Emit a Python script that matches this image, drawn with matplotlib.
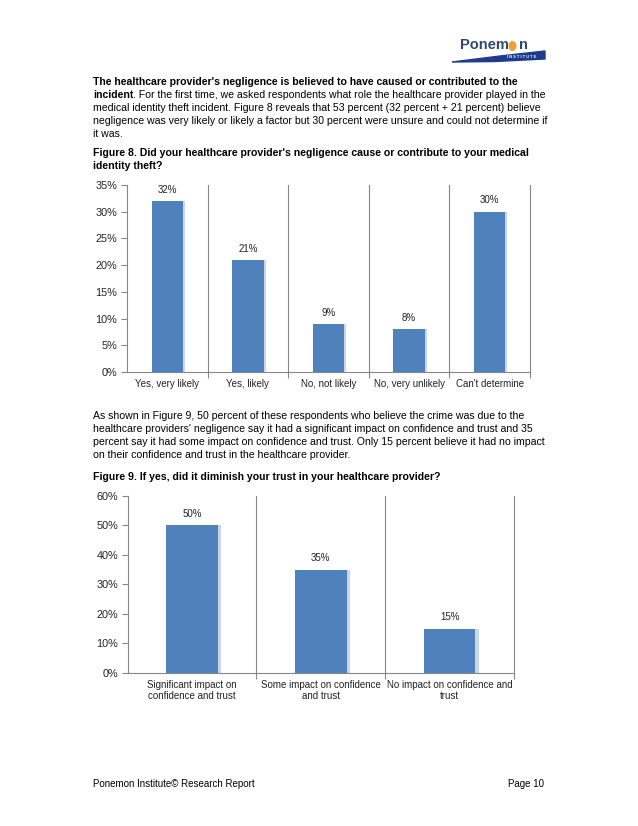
import matplotlib
matplotlib.use("Agg")
import matplotlib.pyplot as plt
from matplotlib.patches import Polygon, Circle

plt.rcParams["font.family"] = ["Liberation Sans", "DejaVu Sans"]

W, H = 638, 826

# 数据
fig8_cats = ["Yes, very likely", "Yes, likely", "No, not likely", "No, very unlikely", "Can't determine"]
fig8_vals = [32, 21, 9, 8, 30]
fig8_ticks = [0, 5, 10, 15, 20, 25, 30, 35]

fig9_cats = ["Significant impact on\nconfidence and trust", "Some impact on confidence\nand trust",
             "No impact on confidence and\ntrust"]
fig9_vals = [50, 35, 15]
fig9_ticks = [0, 10, 20, 30, 40, 50, 60]

para1 = ["medical identity theft incident. Figure 8 reveals that 53 percent (32 percent + 21 percent) believe",
         "negligence was very likely or likely a factor but 30 percent were unsure and could not determine if",
         "it was."]
para2 = ["As shown in Figure 9, 50 percent of these respondents who believe the crime was due to the",
         "healthcare providers' negligence say it had a significant impact on confidence and trust and 35",
         "percent say it had some impact on confidence and trust. Only 15 percent believe it had no impact",
         "on their confidence and trust in the healthcare provider."]

BLUE = "#4F81BD"
GRAY = "#868686"
FS = 7.6

fig = plt.figure(figsize=(W / 100, H / 100), dpi=100)
fig.patch.set_facecolor("white")


def px(x, y):
    return x / W, 1 - y / H


def txt(x, y, s, **kw):
    kw.setdefault("fontsize", FS)
    kw.setdefault("va", "center")
    return fig.text(*px(x, y), s, **kw)


def bar_chart(rect, cats, vals, ticks, bar_w, lab_fs):
    ax = fig.add_axes(rect)
    n = len(cats)
    xs = list(range(n))
    ax.bar(xs, vals, width=bar_w, color=BLUE, zorder=3)
    # 浅色阴影
    ax.bar([x + bar_w / 2 + 0.012 for x in xs], vals, width=0.025, color="#C9D6E8", zorder=2)
    for x, v in zip(xs, vals):
        ax.annotate(f"{v}%", (x, v), xytext=(0, 4.5), textcoords="offset points",
                    ha="center", va="bottom", fontsize=lab_fs, color="#222222")
    ax.set_xlim(-0.5, n - 0.5)
    ax.set_ylim(0, ticks[-1])
    ax.set_yticks(ticks)
    ax.set_yticklabels([f"{t}%" for t in ticks], fontsize=7.8, color="#222222")
    ax.set_xticks([x + 0.5 for x in xs])
    ax.set_xticklabels([])
    ax.set_xticks(xs, minor=True)
    ax.set_xticklabels(cats, minor=True, fontsize=lab_fs, color="#222222", linespacing=1.15)
    ax.tick_params(axis="x", which="minor", length=0, pad=5)
    ax.tick_params(axis="x", which="major", length=4, color=GRAY, width=0.8)
    ax.tick_params(axis="y", length=4, color=GRAY, width=0.8, pad=3)
    for x in xs:
        ax.axvline(x + 0.5, color=GRAY, lw=0.8, zorder=1, clip_on=False)
    for sp in ["top", "right"]:
        ax.spines[sp].set_visible(False)
    for sp in ["left", "bottom"]:
        ax.spines[sp].set_color(GRAY)
        ax.spines[sp].set_linewidth(0.8)
    return ax


# 图8
bar_chart([127 / W, 1 - 372 / H, 403 / W, 187 / H], fig8_cats, fig8_vals, fig8_ticks, 0.39, 7)
# 图9
bar_chart([127.7 / W, 1 - 672.7 / H, 386.3 / W, 176.7 / H], fig9_cats, fig9_vals, fig9_ticks, 0.4, 7)

# 正文
r = fig.canvas.get_renderer()
txt(93, 82, "The healthcare provider's negligence is believed to have caused or contributed to the",
    fontweight="bold")
t = txt(93, 95, "incident", fontweight="bold")
bb = t.get_window_extent(r)
fig.text(bb.x1 / fig.bbox.width, 1 - 95 / H,
         ". For the first time, we asked respondents what role the healthcare provider played in the",
         fontsize=FS, va="center")
for i, line in enumerate(para1):
    txt(93, 108 + 13 * i, line)
txt(93, 153, "Figure 8. Did your healthcare provider's negligence cause or contribute to your medical",
    fontweight="bold")
txt(93, 166, "identity theft?", fontweight="bold")

for i, line in enumerate(para2):
    txt(93, 416 + 13 * i, line)
txt(93, 477, "Figure 9. If yes, did it diminish your trust in your healthcare provider?", fontweight="bold")

# 页脚
txt(93, 784, "Ponemon Institute\u00a9 Research Report", fontsize=7)
txt(544, 784, "Page 10", fontsize=7, ha="right")

# logo
txt(460, 45, "Ponem", fontsize=10.5, fontweight="bold", color="#2E4A6E")
fig.text(*px(518.5, 45), "n", fontsize=10.5, fontweight="bold", color="#2E4A6E", va="center")
fig.add_artist(Circle(px(512.5, 46), 3.3 / W, color="#F0A030", transform=fig.transFigure))
sw = Polygon([px(452, 62), px(500, 56), px(545, 51), px(545, 59), px(495, 61.5)],
             closed=True, color="#1E3C8C", transform=fig.transFigure)
fig.add_artist(sw)
txt(522, 57, "I N S T I T U T E", fontsize=2.8, color="white", ha="center", fontweight="bold")

fig.savefig("out.png", dpi=100)
